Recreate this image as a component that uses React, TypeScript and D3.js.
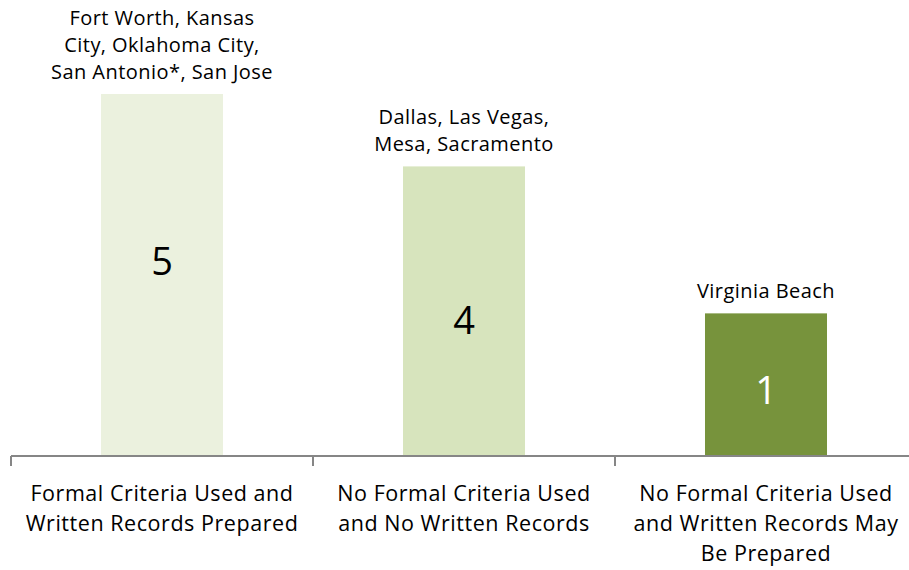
import React from "react";
import * as d3 from "d3";

const categories = [
  ["Formal Criteria Used and", "Written Records Prepared"],
  ["No Formal Criteria Used", "and No Written Records"],
  ["No Formal Criteria Used", "and Written Records May", "Be Prepared"],
];
const valueLabels = ["5", "4", "1"];
const plotted = [5, 4, 1.97];
const labelAt = [2.69, 1.87, 0.91];
const cityNotes = [
  ["Fort Worth, Kansas", "City, Oklahoma City,", "San Antonio*, San Jose"],
  ["Dallas, Las Vegas,", "Mesa, Sacramento"],
  ["Virginia Beach"],
];
const colors = ["#EBF1DE", "#D7E4BD", "#77933C"];
const labelColors = ["#000000", "#000000", "#FFFFFF"];

const W = 909;
const H = 570;
const FONT = "'Open Sans', Lato, sans-serif";

export default function App() {
  const x = d3
    .scaleBand<number>()
    .domain([0, 1, 2])
    .range([11, 11 + 302 * 3])
    .paddingInner(0.596)
    .paddingOuter(0.298);
  const y = d3.scaleLinear().domain([0, 5]).range([456, 94]);
  const step = x.step();
  const x0 = 11;

  return (
    <svg width={W} height={H} style={{ position: "absolute", left: 0, top: 0 }}>
      <rect width={W} height={H} fill="#fff" />
      {plotted.map((v, i) => {
        const bx = x(i)!;
        const bw = x.bandwidth();
        const top = y(v);
        const cx = bx + bw / 2;
        const notes = cityNotes[i];
        return (
          <g key={i}>
            <rect x={bx} y={top} width={bw} height={y(0) - top} fill={colors[i]} />
            <text
              x={cx}
              y={y(labelAt[i])}
              dy="0.36em"
              textAnchor="middle"
              fontFamily={FONT}
              fontSize={38}
              fill={labelColors[i]}
            >
              {valueLabels[i]}
            </text>
            {notes.map((t, j) => (
              <text
                key={j}
                x={cx}
                y={top - 15 - (notes.length - 1 - j) * 27}
                textAnchor="middle"
                fontFamily={FONT}
                fontSize={20}
                letterSpacing={0.45}
                fill="#000"
              >
                {t}
              </text>
            ))}
            {categories[i].map((t, j) => (
              <text
                key={j}
                x={cx}
                y={500.5 + j * 30}
                textAnchor="middle"
                fontFamily={FONT}
                fontSize={21.5}
                letterSpacing={0.55}
                fill="#000"
              >
                {t}
              </text>
            ))}
          </g>
        );
      })}
      <line x1={x0} x2={W} y1={y(0)} y2={y(0)} stroke="#868686" strokeWidth={2} />
      {[0, 1, 2].map((i) => (
        <line
          key={i}
          x1={x0 + i * step}
          x2={x0 + i * step}
          y1={y(0)}
          y2={y(0) + 10}
          stroke="#868686"
          strokeWidth={2}
        />
      ))}
    </svg>
  );
}
